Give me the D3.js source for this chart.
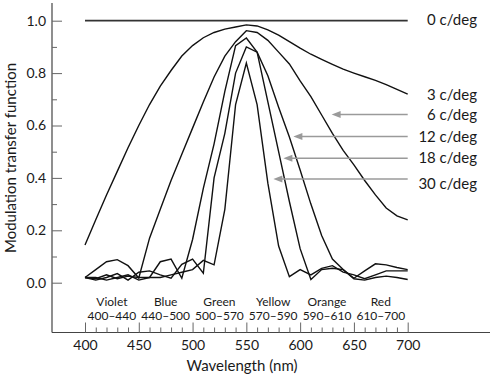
<!DOCTYPE html>
<html><head><meta charset="utf-8">
<script src="https://cdn.jsdelivr.net/npm/d3@7"></script>
<style>
html,body{margin:0;padding:0;background:#fff;}
svg{display:block;font-family:Lato,"DejaVu Sans",sans-serif;}
</style></head>
<body><svg id="c" width="490" height="376"></svg>
<script>
// ---------- data ----------
const wavelengths = [400,410,420,430,440,450,460,470,480,490,500,510,520,530,540,550,560,570,580,590,600,610,620,630,640,650,660,670,680,690,700];
const mtf0  = [1,1,1,1,1,1,1,1,1,1,1,1,1,1,1,1,1,1,1,1,1,1,1,1,1,1,1,1,1,1,1];
const mtf3  = [0.144,0.24,0.335,0.425,0.515,0.60,0.68,0.75,0.81,0.865,0.905,0.935,0.955,0.968,0.976,0.984,0.98,0.965,0.945,0.92,0.895,0.872,0.852,0.833,0.815,0.80,0.786,0.772,0.756,0.738,0.72];
const mtf6  = [0.02,0.05,0.08,0.088,0.065,0.018,0.17,0.28,0.39,0.49,0.59,0.69,0.785,0.865,0.92,0.962,0.955,0.925,0.88,0.835,0.77,0.71,0.64,0.57,0.505,0.45,0.39,0.335,0.285,0.255,0.24];
const mtf12 = [0.02,0.015,0.03,0.015,0.025,0.02,0.02,0.08,0.09,0.017,0.165,0.36,0.53,0.73,0.905,0.934,0.88,0.79,0.67,0.556,0.43,0.30,0.18,0.09,0.05,0.017,0.045,0.072,0.068,0.058,0.05];
const mtf18 = [0.02,0.01,0.02,0.035,0.01,0.04,0.045,0.03,0.017,0.07,0.09,0.036,0.40,0.57,0.80,0.90,0.88,0.69,0.50,0.31,0.13,0.012,0.05,0.055,0.05,0.015,0.01,0.02,0.025,0.02,0.012];
const mtf30 = [0.02,0.02,0.01,0.02,0.03,0.01,0.02,0.02,0.03,0.04,0.05,0.085,0.068,0.28,0.68,0.838,0.68,0.38,0.14,0.023,0.05,0.03,0.055,0.065,0.04,0.03,0.015,0.03,0.045,0.045,0.045];
const seriesLabels = ["0 c/deg","3 c/deg","6 c/deg","12 c/deg","18 c/deg","30 c/deg"];
const yTicks = [0,0.2,0.4,0.6,0.8,1.0];
const yMinorTicks = [0.1,0.3,0.5,0.7,0.9];
const xTicks = [400,450,500,550,600,650,700];
const xMinorTicks = [410,420,430,440,460,470,480,490,510,520,530,540,560,570,580,590,610,620,630,640,660,670,680,690];
const bandNames = ["Violet","Blue","Green","Yellow","Orange","Red"];
const bandRanges = ["400\u2013440","440\u2013500","500\u2013570","570\u2013590","590\u2013610","610\u2013700"];
// arrows (labels 6,12,18,30 c/deg) : tip position in data units
const arrowTipWavelength = [629.3,593.7,584.4,575.1];
const arrowTipValue = [0.642,0.558,0.475,0.396];

// ---------- layout ----------
const svg = d3.select("#c");
const x = d3.scaleLinear().domain([400,700]).range([85,407.7]);
const y = d3.scaleLinear().domain([0,1]).range([282.7,20.7]);
const axisX0 = 52, axisY0 = 332.5, axisTop = 3, axisRight = 490;
const ink = "#1a1a1a", grey = "#9a9a9a", axisCol = "#444";

// axis lines
svg.append("line").attr("x1",axisX0).attr("x2",axisX0).attr("y1",axisTop).attr("y2",axisY0)
  .attr("stroke",axisCol).attr("stroke-width",1.2);
svg.append("line").attr("x1",axisX0).attr("x2",axisRight).attr("y1",axisY0).attr("y2",axisY0)
  .attr("stroke",axisCol).attr("stroke-width",1.2);

// y axis
const gy = svg.append("g").attr("transform",`translate(${axisX0},0)`)
  .call(d3.axisLeft(y).tickValues(yTicks).tickSize(-10).tickPadding(6).tickFormat(d3.format(".1f")));
const gy2 = svg.append("g").attr("transform",`translate(${axisX0},0)`)
  .call(d3.axisLeft(y).tickValues(yMinorTicks).tickSize(-5).tickFormat(""));
// x axis
const gx = svg.append("g").attr("transform",`translate(0,${axisY0})`)
  .call(d3.axisBottom(x).tickValues(xTicks).tickSize(-10).tickPadding(8).tickFormat(d3.format("d")));
const gx2 = svg.append("g").attr("transform",`translate(0,${axisY0})`)
  .call(d3.axisBottom(x).tickValues(xMinorTicks).tickSize(-5).tickFormat(""));
[gy,gy2,gx,gx2].forEach(g=>{
  g.select(".domain").remove();
  g.selectAll(".tick line").attr("stroke","#666").attr("stroke-width",1);
  g.selectAll("text").attr("font-size",14).attr("fill",ink).attr("font-family","Lato,sans-serif");
});

// band labels
const bandCenters = bandNames.map((d,i)=>x(425+50*i));
svg.append("g").selectAll("text").data(bandNames).join("text")
  .attr("x",(d,i)=>bandCenters[i]).attr("y",306).attr("text-anchor","middle")
  .attr("font-size",12).attr("fill",ink).text(d=>d);
svg.append("g").selectAll("text").data(bandRanges).join("text")
  .attr("x",(d,i)=>bandCenters[i]).attr("y",319.5).attr("text-anchor","middle")
  .attr("font-size",12).attr("fill",ink).text(d=>d);

// titles
svg.append("text").attr("x",242).attr("y",371).attr("text-anchor","middle")
  .attr("font-size",15).attr("fill",ink).text("Wavelength (nm)");
svg.append("text").attr("transform","translate(16,158) rotate(-90)").attr("text-anchor","middle")
  .attr("font-size",15).attr("fill",ink).text("Modulation transfer function");

// curves
const line = d3.line().x((d,i)=>x(wavelengths[i])).y(d=>y(d));
const series = [mtf0,mtf3,mtf6,mtf12,mtf18,mtf30];
svg.append("g").selectAll("path").data(series).join("path")
  .attr("d",d=>line(d)).attr("fill","none")
  .attr("stroke",(d,i)=>i===0?"#333":"#111")
  .attr("stroke-width",(d,i)=>i===0?1.8:1.4)
  .attr("stroke-linejoin","miter");

// arrows
const tailX = x(700);
const ag = svg.append("g");
arrowTipWavelength.forEach((w,i)=>{
  const tx = x(w), ty = y(arrowTipValue[i]);
  ag.append("line").attr("x1",tailX).attr("x2",tx+6).attr("y1",ty).attr("y2",ty)
    .attr("stroke",grey).attr("stroke-width",1.5);
  ag.append("path").attr("d",`M${tx},${ty}L${tx+9},${ty-3.5}L${tx+9},${ty+3.5}Z`).attr("fill",grey);
});

// series labels
const labelY = [20,95,114.5,137,158,184];
svg.append("g").selectAll("text").data(seriesLabels).join("text")
  .attr("x",477).attr("y",(d,i)=>labelY[i]).attr("dy","0.35em").attr("text-anchor","end")
  .attr("font-size",15).attr("fill",ink).text(d=>d);
</script></body></html>
